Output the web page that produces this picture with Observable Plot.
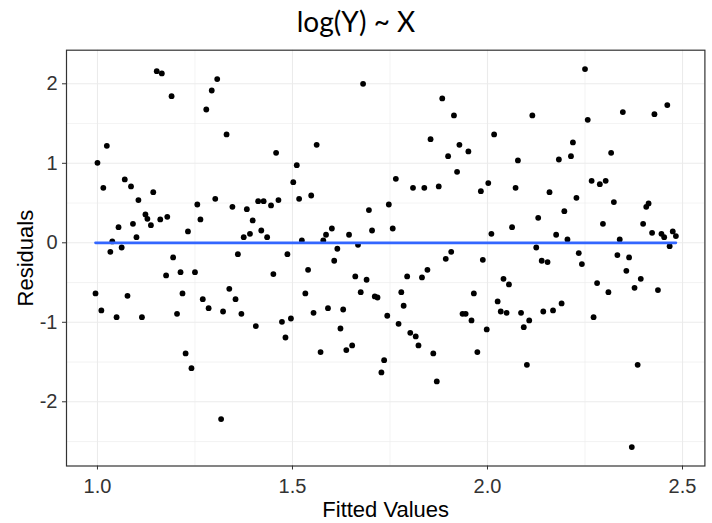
<!DOCTYPE html>
<html>
<head>
<meta charset="utf-8">
<script src="https://cdn.jsdelivr.net/npm/d3@7"></script>
<script src="https://cdn.jsdelivr.net/npm/@observablehq/plot@0.6"></script>
<style>
  html, body { margin: 0; padding: 0; background: #fff; }
  #title { width: 712px; height: 44px; line-height: 42px; text-align: center;
           font-family: Lato, "Open Sans", sans-serif; font-size: 28px; color: #000; }
</style>
</head>
<body>
<div id="title">log(Y) ~ X</div>
<div id="chart"></div>
<script>
const fitted = [0.995,1.000,1.010,1.015,1.024,1.033,1.038,1.049,1.054,1.062,1.070,1.077,1.086,1.091,1.100,1.105,1.114,1.123,1.128,1.137,1.143,1.152,1.161,1.165,1.176,1.179,1.190,1.194,1.204,1.213,1.218,1.226,1.232,1.241,1.250,1.256,1.264,1.270,1.279,1.285,1.293,1.302,1.307,1.317,1.322,1.331,1.338,1.346,1.354,1.360,1.369,1.375,1.383,1.391,1.398,1.406,1.412,1.420,1.426,1.435,1.445,1.451,1.458,1.464,1.473,1.482,1.487,1.496,1.502,1.511,1.517,1.524,1.533,1.540,1.548,1.554,1.562,1.572,1.579,1.586,1.591,1.601,1.607,1.615,1.623,1.630,1.638,1.645,1.653,1.661,1.668,1.675,1.681,1.690,1.696,1.704,1.711,1.718,1.728,1.735,1.743,1.747,1.757,1.765,1.772,1.779,1.785,1.794,1.802,1.809,1.816,1.823,1.832,1.838,1.846,1.854,1.861,1.870,1.875,1.884,1.893,1.899,1.907,1.914,1.922,1.928,1.936,1.944,1.951,1.959,1.965,1.974,1.983,1.988,1.998,2.002,2.010,2.017,2.026,2.034,2.041,2.049,2.055,2.063,2.072,2.078,2.086,2.093,2.101,2.107,2.115,2.125,2.130,2.139,2.143,2.154,2.159,2.168,2.176,2.183,2.190,2.197,2.205,2.214,2.219,2.228,2.234,2.242,2.250,2.257,2.267,2.272,2.281,2.288,2.296,2.303,2.310,2.317,2.324,2.333,2.339,2.347,2.356,2.363,2.370,2.377,2.385,2.393,2.399,2.407,2.413,2.422,2.428,2.437,2.446,2.453,2.461,2.467,2.475,2.483];

const residuals = [-0.637,1.006,-0.851,0.692,1.220,-0.113,0.017,-0.935,0.197,-0.059,0.797,-0.667,0.709,0.239,0.071,0.537,-0.935,0.356,0.302,0.222,0.637,2.159,0.294,2.130,-0.411,0.327,1.845,-0.184,-0.893,-0.369,-0.637,-1.392,0.143,-1.577,-0.369,0.482,0.294,-0.709,1.677,-0.822,1.916,0.553,2.059,-2.218,-0.864,1.363,-0.579,0.453,-0.709,-0.143,-0.893,0.071,0.423,0.113,0.281,-1.048,0.524,0.155,0.524,0.071,0.470,-0.394,1.132,0.537,-0.994,-1.191,-0.143,-0.952,0.763,0.977,0.553,0.029,-0.637,-0.340,0.595,-0.881,1.233,-1.375,0.029,0.101,-0.822,0.180,-0.226,-0.075,-1.078,-0.839,-1.350,0.101,-1.291,-0.423,-0.025,-0.621,2.000,-0.465,0.411,0.155,-0.675,-0.688,-1.631,-1.476,-0.918,0.482,0.180,0.805,-1.019,-0.621,-0.792,-0.423,-1.132,0.692,-1.178,-1.291,-0.436,0.692,-0.340,1.304,-1.392,-1.744,0.709,1.816,-0.201,1.090,-0.113,1.602,0.893,1.233,-0.893,-0.893,1.149,-0.977,-0.637,-1.375,0.650,-0.214,-1.090,0.751,0.113,1.363,-0.738,-0.864,-0.453,-0.881,-0.524,0.197,0.692,1.036,-0.881,-1.061,-1.535,-0.977,1.602,-0.059,0.314,-0.226,-0.864,-0.243,0.637,-0.851,0.101,1.048,-0.763,0.398,0.042,1.090,1.262,0.566,-0.130,-0.268,2.185,1.547,0.780,-0.935,-0.507,0.738,0.239,0.780,-0.621,1.132,0.512,-0.155,0.042,1.644,-0.352,-0.184,-2.570,-0.566,-1.535,-0.453,0.239,0.453,0.495,0.126,1.618,-0.595,0.113,0.071,1.732,-0.042,0.143,0.084];

// smooth (lm) fit line: flat at zero across the fitted range
const fitX = [0.995, 2.483];
const fitY = [0.0, 0.0];

const xTicks = [1.0, 1.5, 2.0, 2.5];
const xTickLabels = ["1.0", "1.5", "2.0", "2.5"];
const xMinor = [1.25, 1.75, 2.25];
const yTicks = [-2, -1, 0, 1, 2];
const yTickLabels = ["-2", "-1", "0", "1", "2"];
const yMinor = [-2.5, -1.5, -0.5, 0.5, 1.5];

const points = fitted.map((f, i) => ({fitted: f, resid: residuals[i]}));
const fitLine = fitX.map((x, i) => ({x, y: fitY[i]}));

function expand(ext, k = 0.05) {
  const r = ext[1] - ext[0];
  return [ext[0] - r * k, ext[1] + r * k];
}

const xDomain = expand(d3.extent(fitted));
const yDomain = expand(d3.extent(residuals));

const axisFont = "'Liberation Sans', Arial, sans-serif";

const chart = Plot.plot({
  width: 712,
  height: 479,
  marginTop: 5.7,
  marginBottom: 57.5,
  marginLeft: 66,
  marginRight: 7.6,
  style: {fontFamily: axisFont, background: "#fff"},
  x: {domain: xDomain},
  y: {domain: yDomain},
  marks: [
    Plot.gridX(xMinor, {stroke: "#EBEBEB", strokeOpacity: 1, strokeWidth: 0.6}),
    Plot.gridY(yMinor, {stroke: "#EBEBEB", strokeOpacity: 1, strokeWidth: 0.6}),
    Plot.gridX(xTicks, {stroke: "#EBEBEB", strokeOpacity: 1, strokeWidth: 1.1}),
    Plot.gridY(yTicks, {stroke: "#EBEBEB", strokeOpacity: 1, strokeWidth: 1.1}),
    Plot.axisX(xTicks, {
      tickFormat: (d, i) => xTickLabels[i], tickSize: 4, tickPadding: 9,
      fontSize: 20, color: "#333", label: null, fontFamily: axisFont
    }),
    Plot.axisY(yTicks, {
      tickFormat: (d, i) => yTickLabels[i], tickSize: 4, tickPadding: 5,
      fontSize: 20, color: "#333", label: null, fontFamily: axisFont
    }),
    Plot.dot(points, {x: "fitted", y: "resid", r: 2.9, fill: "#000", stroke: null}),
    Plot.line(fitLine, {x: "x", y: "y", stroke: "#3366FF", strokeWidth: 2.7}),
    Plot.frame({stroke: "#333", strokeWidth: 1.2}),
    Plot.text(["Fitted Values"], {
      frameAnchor: "bottom", lineAnchor: "middle", textAnchor: "middle", dy: 43.6,
      fontSize: 22, fill: "#000", fontFamily: axisFont
    }),
    Plot.text(["Residuals"], {
      frameAnchor: "left", lineAnchor: "middle", textAnchor: "middle", dx: -40.5, rotate: -90,
      fontSize: 22, fill: "#000", fontFamily: axisFont
    })
  ]
});

document.getElementById("chart").appendChild(chart);
</script>
</body>
</html>
